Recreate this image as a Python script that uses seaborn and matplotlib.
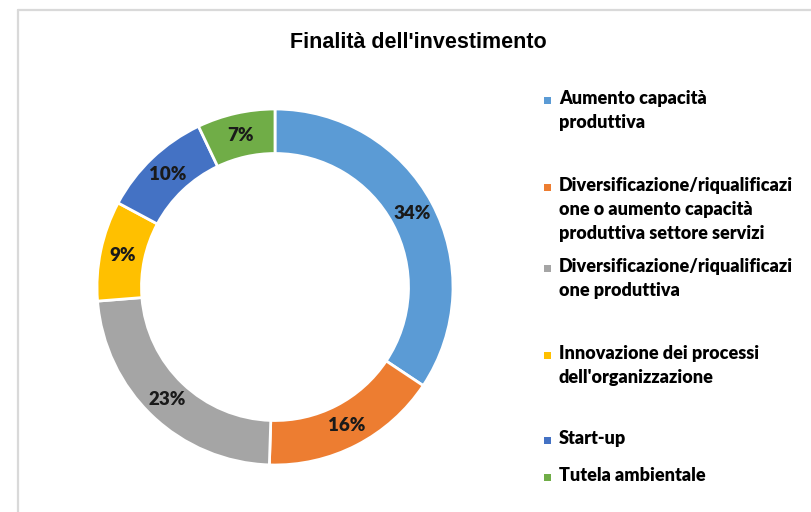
import matplotlib
matplotlib.use("Agg")
import matplotlib.pyplot as plt
import matplotlib.patches as mpatches
import seaborn as sns
import numpy as np

categories = [
    "Aumento capacità\nproduttiva",
    "Diversificazione/riqualificazi\none o aumento capacità\nproduttiva settore servizi",
    "Diversificazione/riqualificazi\none produttiva",
    "Innovazione dei processi\ndell'organizzazione",
    "Start-up",
    "Tutela ambientale",
]
values = [34, 16, 23, 9, 10, 7]
pct_labels = ["34%", "16%", "23%", "9%", "10%", "7%"]
colors = ["#5B9BD5", "#ED7D31", "#A5A5A5", "#FFC000", "#4472C4", "#70AD47"]
title = "Finalità dell'investimento"

sns.set_theme(style="white")
palette = sns.color_palette(colors)
plt.rcParams['font.family'] = ['Lato', 'DejaVu Sans']

W, H = 812, 512
fig = plt.figure(figsize=(W / 100, H / 100), dpi=100)
fig.patch.set_facecolor("white")

# frame
fig.add_artist(plt.Line2D([18 / W, 18 / W], [0, 1 - 10 / H], color="#D9D9D9", lw=1.6,
                          transform=fig.transFigure))
fig.add_artist(plt.Line2D([18 / W, 1], [1 - 10 / H, 1 - 10 / H], color="#D9D9D9", lw=1.6,
                          transform=fig.transFigure))

cx, cy, r = 275, 287, 178
ax = fig.add_axes([(cx - r) / W, (H - cy - r) / H, 2 * r / W, 2 * r / H])
wedges, _ = ax.pie(values, colors=palette, startangle=90, counterclock=False,
                   radius=1.0, wedgeprops=dict(width=0.25, edgecolor="white", linewidth=2))
ax.set_xlim(-1, 1)
ax.set_ylim(-1, 1)
ax.set_aspect("equal")
ax.axis("off")

for w, lab in zip(wedges, pct_labels):
    ang = np.deg2rad((w.theta1 + w.theta2) / 2)
    rr = 0.875
    ax.text(rr * np.cos(ang), rr * np.sin(ang), lab, ha="center", va="center",
            fontsize=13.5, fontweight="heavy", color="#1A1A1A")

fig.text(418 / W, 1 - 42 / H, title, ha="center", va="center", fontsize=15.5,
         fontweight="bold", color="#000000", family=["Liberation Sans", "DejaVu Sans"])

# legend
ys = [100, 187, 268, 355, 440, 477]
for y, lab, c in zip(ys, categories, palette):
    fig.add_artist(mpatches.Rectangle((544 / W, 1 - (y + 3.5) / H), 7 / W, 7 / H,
                                      transform=fig.transFigure, facecolor=c, edgecolor="none"))
    fig.text(559 / W, 1 - (y - 10) / H, lab, ha="left", va="top", fontsize=13,
             fontweight="heavy", color="#000000", linespacing=1.5)

fig.savefig("out.png", dpi=100)
